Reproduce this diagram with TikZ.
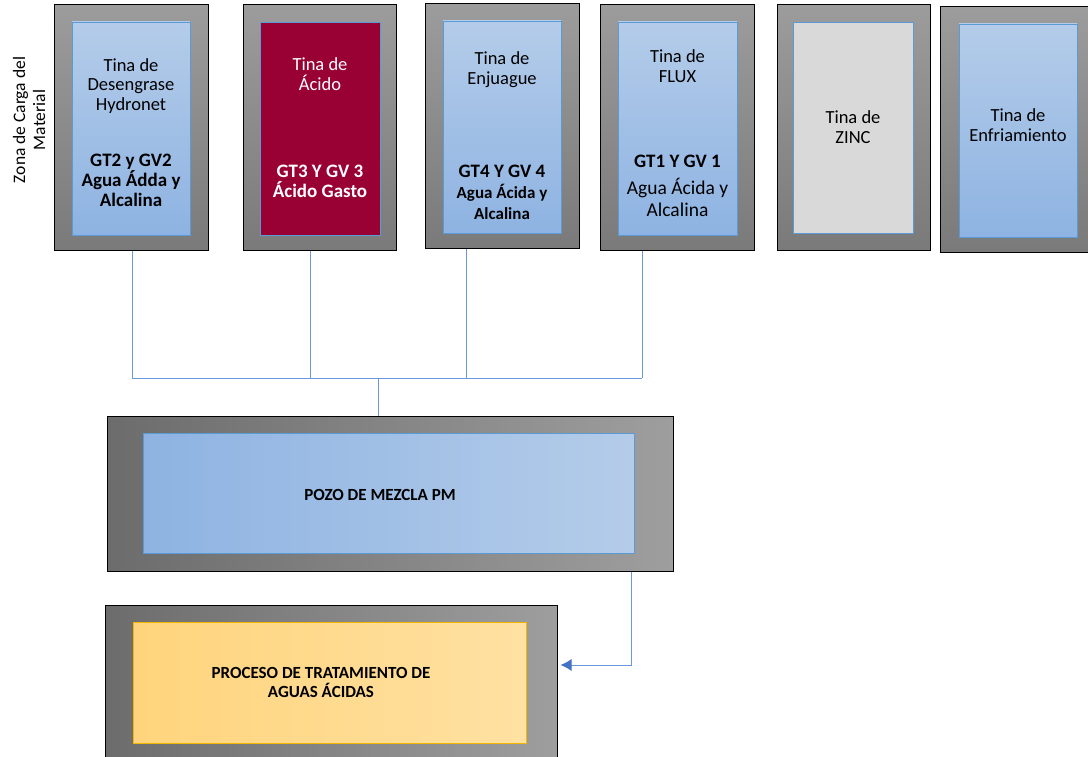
\documentclass[tikz,border=0pt]{standalone}
\usepackage{fontspec}
\setmainfont{Carlito}
\usetikzlibrary{arrows.meta}
\definecolor{frameTop}{HTML}{9C9C9C}
\definecolor{frameBot}{HTML}{7A7A7A}
\definecolor{frameL}{HTML}{6C6C6C}
\definecolor{frameR}{HTML}{9E9E9E}
\definecolor{blueTop}{HTML}{B4CCE9}
\definecolor{blueBot}{HTML}{8EB3E2}
\definecolor{blueEdge}{HTML}{5B9BD5}
\definecolor{acidRed}{HTML}{990033}
\definecolor{zincGray}{HTML}{D9D9D9}
\definecolor{yelL}{HTML}{FFD47C}
\definecolor{yelR}{HTML}{FFE1A2}
\definecolor{yelEdge}{HTML}{F2B600}
\definecolor{pipe}{HTML}{6A98DE}
\definecolor{arrowBlue}{HTML}{4472C4}
\tikzset{
  x=1pt, y=-1pt,
  frame/.style={draw=black, line width=1pt, top color=frameTop, bottom color=frameBot, inner sep=0pt},
  hframe/.style={draw=black, line width=1pt, left color=frameL, right color=frameR, inner sep=0pt},
  bluetank/.style={draw=blueEdge, line width=0.8pt, top color=blueTop, bottom color=blueBot, inner sep=0pt},
  redtank/.style={draw=blueEdge, line width=0.8pt, fill=acidRed, inner sep=0pt},
  graytank/.style={draw=blueEdge, line width=0.8pt, fill=zincGray, inner sep=0pt},
  txt/.style={align=center, font=\fontsize{18.5}{19.5}\selectfont, inner sep=0pt},
  btxt/.style={align=center, font=\fontsize{19}{20}\selectfont\bfseries, inner sep=0pt},
  pipeline/.style={draw=pipe, line width=1pt},
}
\begin{document}
\begin{tikzpicture}
\useasboundingbox (0,0) rectangle (1088,757);
\clip (0,0) rectangle (1088,757);
\fill[white] (0,0) rectangle (1088,757);

% tank frames
\node[frame, minimum width=154pt, minimum height=245pt] (f1) at (131,127.5) {};
\node[frame, minimum width=153pt, minimum height=245pt] (f2) at (319.5,127.5) {};
\node[frame, minimum width=154pt, minimum height=244pt] (f3) at (502,126) {};
\node[frame, minimum width=154pt, minimum height=245pt] (f4) at (677,127.5) {};
\node[frame, minimum width=153pt, minimum height=245pt] (f5) at (853.5,127.5) {};
\node[frame, minimum width=150pt, minimum height=245pt] (f6) at (1015,129.5) {};

% tank insides
\node[bluetank, minimum width=118pt, minimum height=213pt] (i1) at (131,128.5) {};
\node[redtank, minimum width=120pt, minimum height=213pt] (i2) at (320,128.5) {};
\node[bluetank, minimum width=118pt, minimum height=212pt] (i3) at (502,127) {};
\node[bluetank, minimum width=119pt, minimum height=213pt] (i4) at (677.5,128.5) {};
\node[graytank, minimum width=120pt, minimum height=211pt] (i5) at (853,127.5) {};
\node[bluetank, minimum width=118pt, minimum height=213pt] (i6) at (1018,130.5) {};

% tank texts
\node[txt] (a1) at (131,86) {Tina de\\Desengrase\\Hydronet};
\node[btxt] (b1) at (131,180) {GT2 y GV2\\Agua Ádda y\\Alcalina};
\node[txt, text=white] (a2) at (320,74) {Tina de\\Ácido};
\node[btxt, text=white] (b2) at (320,181) {GT3 Y GV 3\\Ácido Gasto};
\node[txt] (a3) at (502,69.5) {Tina de\\Enjuague};
\node[btxt] (b3) at (502,171) {GT4 Y GV 4};
\node[btxt, font=\bfseries\fontsize{17}{21}\selectfont] (c3) at (502,202) {Agua Ácida y\\Alcalina};
\node[txt] (a4) at (677.5,66) {Tina de\\FLUX};
\node[btxt] (b4) at (677.5,161) {GT1 Y GV 1};
\node[txt, font=\fontsize{19.5}{22}\selectfont] (c4) at (677.5,197) {Agua Ácida y\\Alcalina};
\node[txt] (a5) at (853,127) {Tina de\\ZINC};
\node[txt] (a6) at (1018,125) {Tina de\\Enfriamiento};

% side label
\node[txt, rotate=90, font=\fontsize{17.5}{20}\selectfont] (zona) at (29,120) {Zona de Carga del\\Material};

% pozo
\node[hframe, minimum width=566pt, minimum height=155pt] (pozoF) at (390,493.5) {};
\node[draw=blueEdge, line width=0.8pt, left color=blueBot, right color=blueTop, inner sep=0pt, minimum width=491pt, minimum height=120pt] (pozo) at (388.5,493) {};
\node[btxt, font=\bfseries\fontsize{17}{20}\selectfont] (pozoT) at (380,495) {POZO DE MEZCLA PM};

% proceso
\node[hframe, minimum width=452pt, minimum height=170pt] (procF) at (331,690) {};
\node[draw=yelEdge, line width=0.8pt, left color=yelL, right color=yelR, inner sep=0pt, minimum width=393pt, minimum height=121pt] (proc) at (329.5,682.5) {};
\node[btxt, font=\bfseries\fontsize{17}{19}\selectfont] (procT) at (321,682) {PROCESO DE TRATAMIENTO DE\\AGUAS ÁCIDAS};

% pipes
\coordinate (j1) at (132,378);
\coordinate (j2) at (310,378);
\coordinate (j3) at (466,378);
\coordinate (j4) at (642,378);
\coordinate (jm) at (378,378);
\coordinate (k) at (631,665);
\draw[pipeline] (f1.south -| j1) -- (j1) -- (j4);
\draw[pipeline] (f2.south -| j2) -- (j2);
\draw[pipeline] (f3.south -| j3) -- (j3);
\draw[pipeline] (f4.south -| j4) -- (j4);
\draw[pipeline] (jm) -- (jm |- pozoF.north);
\draw[pipeline, -{Latex[length=11pt,width=12pt,color=arrowBlue]}, shorten >=3pt] (pozoF.south -| k) -- (k) -- (k -| procF.east);
\end{tikzpicture}
\end{document}
